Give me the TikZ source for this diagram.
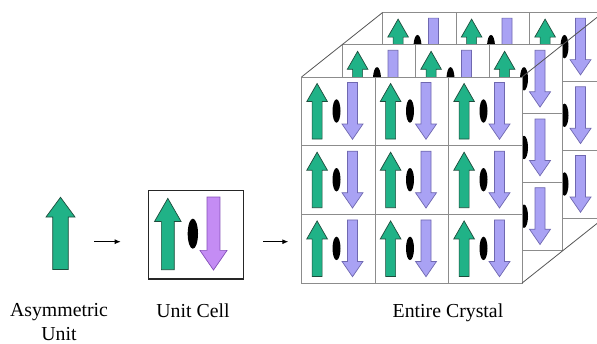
\documentclass[tikz,border=0pt]{standalone}
\usepackage{fontspec}
\setmainfont{Liberation Serif}
\usetikzlibrary{arrows.meta}
\definecolor{motifgreen}{HTML}{20B287}
\definecolor{motifgreenline}{HTML}{1E4C3C}
\definecolor{motifviolet}{HTML}{A9A2F4}
\definecolor{motifvioletline}{HTML}{6F68B0}
\definecolor{unitviolet}{HTML}{C48CF4}
\definecolor{unitvioletline}{HTML}{8450B8}
\definecolor{cellgrid}{HTML}{8C8C8C}
\definecolor{edgegrey}{HTML}{555555}

\begin{document}
\begin{tikzpicture}[
  x=1pt, y=-1pt,
  font=\fontsize{19.8}{23.5}\selectfont,
  cellbox/.style={draw=cellgrid, fill=white, line width=0.9pt},
  unitbox/.style={draw=black!85, line width=1.3pt, inner sep=0pt, minimum width=95pt, minimum height=88.3pt, anchor=north west},
  uparr/.style={fill=motifgreen, draw=motifgreenline, line width=0.7pt},
  dnarr/.style={fill=motifviolet, draw=motifvioletline, line width=0.7pt},
  unitarr/.style={fill=unitviolet, draw=unitvioletline, line width=0.7pt},
  dimer/.style={fill=black},
  edge/.style={draw=edgegrey, line width=0.8pt},
  arr/.style={-{Latex[length=6pt,width=5pt]}, line width=0.9pt},
  lbl/.style={align=center, inner sep=0pt, anchor=north},
  pics/motif/.style={code={
    \draw[uparr] (10.6,62) -- (10.6,24.5) -- (5.3,24.5) -- (15.6,6.5) -- (25.9,24.5) -- (20.6,24.5) -- (20.6,62) -- cycle;
    \draw[#1] (46,5.5) -- (56,5.5) -- (56,47) -- (61.5,47) -- (51,62.3) -- (40.5,47) -- (46,47) -- cycle;
    \fill[dimer] (35,34) ellipse [x radius=4, y radius=11.7];
  }}
]
\useasboundingbox (0,0) rectangle (597,343);
\clip (0,0) rectangle (597,343);

% asymmetric unit
\draw[uparr] (52.7,269.5) -- (52.7,217) -- (46,217) -- (60.5,197.3) -- (75,217) -- (68.3,217) -- (68.3,269.5) -- cycle;

% unit cell
\node[unitbox] (ucell) at (147.7,190) {};
\pic[shift={(147.7,190)}, xscale=1.29, yscale=1.285] {motif=unitarr};

% crystal, back layer first
\foreach \l in {2,1,0} {
  \foreach \r in {0,1,2} {
    \foreach \c in {0,1,2} {
      \begin{scope}[shift={(301.5+40.5*\l+73.5*\c, 77-32.2*\l+68.7*\r)}]
        \draw[cellbox] (0,0) rectangle (73.5,68.7);
        \pic {motif=dnarr};
      \end{scope}
    }
  }
}
\coordinate (ftl) at (301.5,77);
\coordinate (ftr) at (522,77);
\coordinate (fbr) at (522,283.1);
\draw[edge] (ftl) -- ++(81,-64.4);
\draw[edge] (ftr) -- ++(81,-64.4);
\draw[edge] (fbr) -- ++(81,-64.4);

% steps
\coordinate (s1a) at (94.3,241.7);
\coordinate (s1b) at (120.7,241.7);
\coordinate (s2a) at (263.3,241.7);
\coordinate (s2b) at (288.3,241.7);
\draw[arr] (s1a) -- (s1b);
\draw[arr] (s2a) -- (s2b);

\node[lbl] (asymlbl) at (59,303.3) {Asymmetric\\Unit};
\node[lbl] (celllbl) at (193,303.3) {Unit Cell};
\node[lbl] (crystlbl) at (448,303.3) {Entire Crystal};
\end{tikzpicture}
\end{document}
